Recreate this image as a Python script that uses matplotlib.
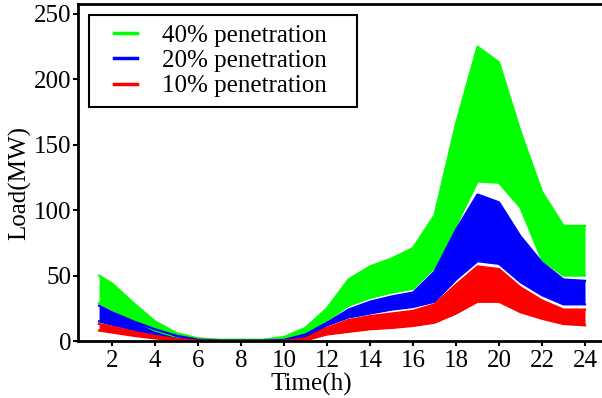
import matplotlib
matplotlib.use("Agg")
import matplotlib.pyplot as plt
from matplotlib.lines import Line2D
from matplotlib.patches import Rectangle

plt.rcParams['font.family'] = ['Liberation Serif', 'DejaVu Serif']
plt.rcParams['font.size'] = 18

# hours of the day (first point sits a bit before 2 h)
hours = [1.4, 2, 3, 4, 5, 6, 7, 8, 9, 10, 11, 12,
         13, 14, 15, 16, 17, 18, 19, 20, 21, 22, 23, 24]

# envelope of the scenario curves for each penetration level (MW)
g_upper = [50, 44, 29, 15, 6, 2, 1, 1, 1, 3, 10, 25,
           47, 57, 63, 71, 96, 166, 225, 213, 160, 114, 88, 88]
g_lower = [29, 24, 16, 8, 3, 1, 0.5, 0.5, 0.5, 1, 6, 16,
           27, 33, 37, 40, 56, 88, 122, 121, 102, 62, 50, 50]

b_upper = [27, 22, 15, 9, 4, 1, 0.3, 0.3, 0.3, 0.8, 5, 14,
           24, 30, 34, 37, 53, 85, 112, 106, 80, 60, 47, 46]
b_lower = [15, 12.5, 8.5, 4.5, 1.8, 0.4, 0, 0, 0, 0.2, 2.5, 12,
           18, 21, 24, 26, 30, 47, 61, 59, 45, 35, 28, 28]

r_upper = [13, 11, 7, 4, 1.5, 0.3, 0, 0, 0, 0, 2, 10,
           16, 19, 21, 23, 28, 43, 57, 55, 41, 31, 24, 24]
r_lower = [8, 6.5, 4, 2, 0.5, 0, 0, 0, 0, 0, 0.5, 5,
           7, 9, 10, 11.5, 14, 21, 30, 30, 22, 17, 13, 12]

labels = ['40% penetration', '20% penetration', '10% penetration']
colors = ['#00ff00', '#0000ff', '#ff0000']

fig = plt.figure(figsize=(6.02, 3.98), dpi=100)
ax = fig.add_axes([78 / 602, 57 / 398, 524 / 602, 337.5 / 398])

bands = [(g_lower, g_upper), (b_lower, b_upper), (r_lower, r_upper)]
for (lo, up), c in zip(bands, colors):
    ax.fill_between(hours, lo, up, color=c, lw=0)
    ax.plot(hours, up, color=c, lw=1.6)
    ax.plot(hours, lo, color=c, lw=1.6)

ax.set_xlim(0.42, 24.79)
ax.set_ylim(0, 258)
ax.set_xticks(range(2, 25, 2))
ax.set_yticks(range(0, 251, 50))
ax.tick_params(direction='out', length=3.5, width=1.5, pad=3)
ax.tick_params(axis='y', pad=1.5)

for s in ['left', 'bottom', 'top']:
    ax.spines[s].set_linewidth(2)
ax.spines['right'].set_visible(False)

ax.set_xlabel('Time(h)')
ax.set_ylabel('Load(MW)')
ax.xaxis.set_label_coords(0.445, -0.095)
ax.yaxis.set_label_coords(-0.09, 0.468)

# legend box (MATLAB-style, wider horizontal padding)
ax.add_patch(Rectangle((0.021, 0.693), 0.511, 0.2726, transform=ax.transAxes,
                       facecolor='white', edgecolor='black', lw=1.5, zorder=4))
handles = [Line2D([0], [0], color=c, lw=2.5) for c in colors]
leg = ax.legend(handles, labels, loc='upper left', bbox_to_anchor=(0.068, 0.938),
                borderaxespad=0, borderpad=0, frameon=False,
                handlelength=0.95, handletextpad=1.0, labelspacing=0.11)
leg.set_zorder(5)

fig.savefig('out.png', dpi=100)
